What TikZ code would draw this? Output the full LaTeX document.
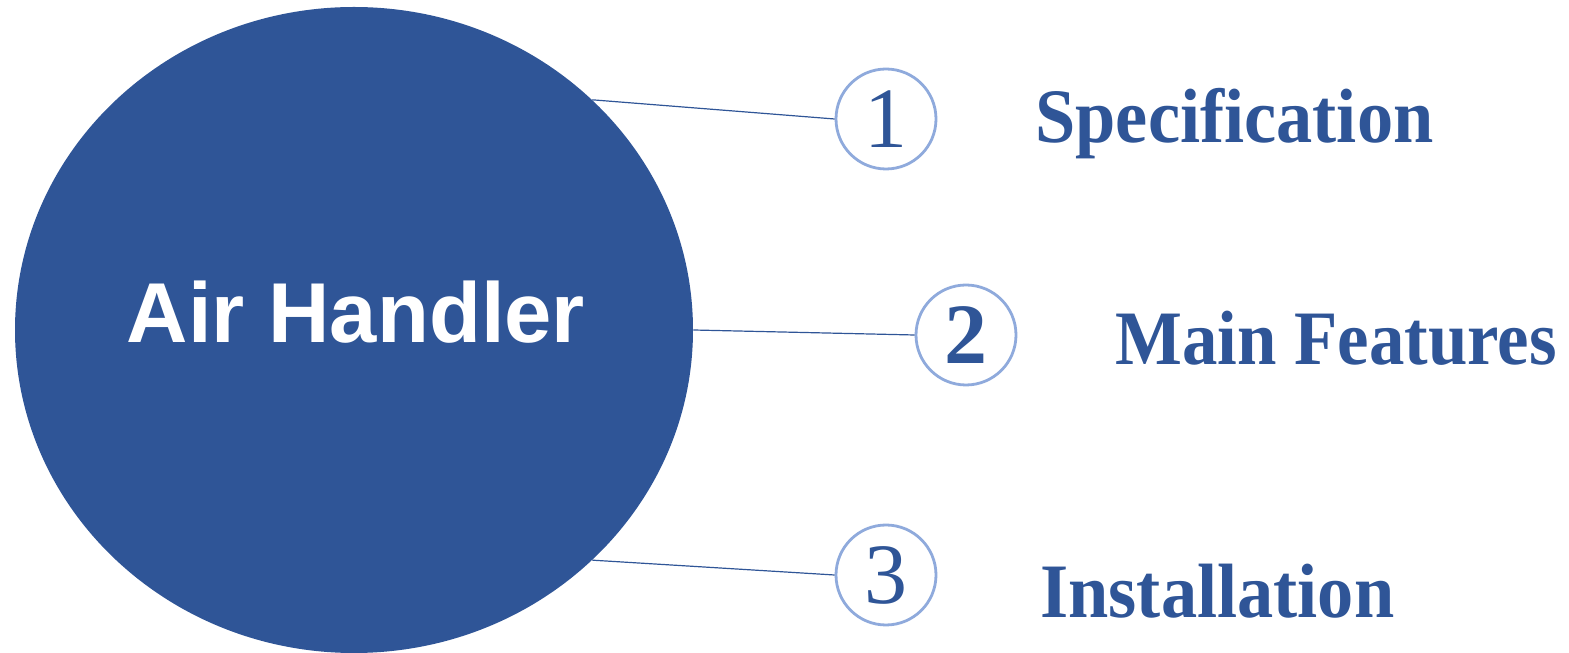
\documentclass[tikz,border=0pt]{standalone}
\usepackage{fontspec}
\setmainfont{Liberation Serif}
\newfontfamily\headfont{Liberation Sans}
\newfontfamily\itemfont[FakeStretch=0.94]{Liberation Serif}
\newfontfamily\narrowfont[FakeStretch=0.92]{Liberation Serif}
\usetikzlibrary{shapes,positioning,calc}
\definecolor{darkblue}{RGB}{47,85,151}
\definecolor{ringblue}{RGB}{143,170,220}

\begin{document}
\begin{tikzpicture}[x=0.5pt,y=0.5pt,
    hub/.style={ellipse,fill=darkblue,minimum width=339pt,minimum height=323pt,inner sep=0pt},
    ring/.style={circle,draw=ringblue,line width=1.4pt,fill=white,minimum size=50pt,inner sep=0pt,text=darkblue,font=\fontsize{43}{43}\selectfont},
    item/.style={anchor=base west,text=darkblue,font=\itemfont\bfseries\fontsize{38.5}{40}\selectfont,inner sep=0pt},
    link/.style={darkblue,line width=0.6pt}]
    \useasboundingbox (0,0) rectangle (1569,653);
    \node[hub] (hub) at (354,323) {};
    \node[anchor=base,text=white,font=\headfont\bfseries\fontsize{42.5}{42.5}\selectfont,inner sep=0pt] (title) at (356,310) {Air Handler};
    \node[ring] (r1) at (886,534) {1};
    \node[ring] (r2) at (966,318) {\bfseries 2};
    \node[ring] (r3) at (886,78) {3};
    \foreach \a/\i in {44/1, 0/2, -44/3} {
        \draw[link] (hub.\a) -- (r\i.west);
    }
    \node[item] (spec) at (1035,510) {Specification};
    \node[item,font=\narrowfont\bfseries\fontsize{38.5}{40}\selectfont] (feat) at (1115,288) {Main Features};
    \node[item] (inst) at (1040,35) {Installation};
\end{tikzpicture}
\end{document}
